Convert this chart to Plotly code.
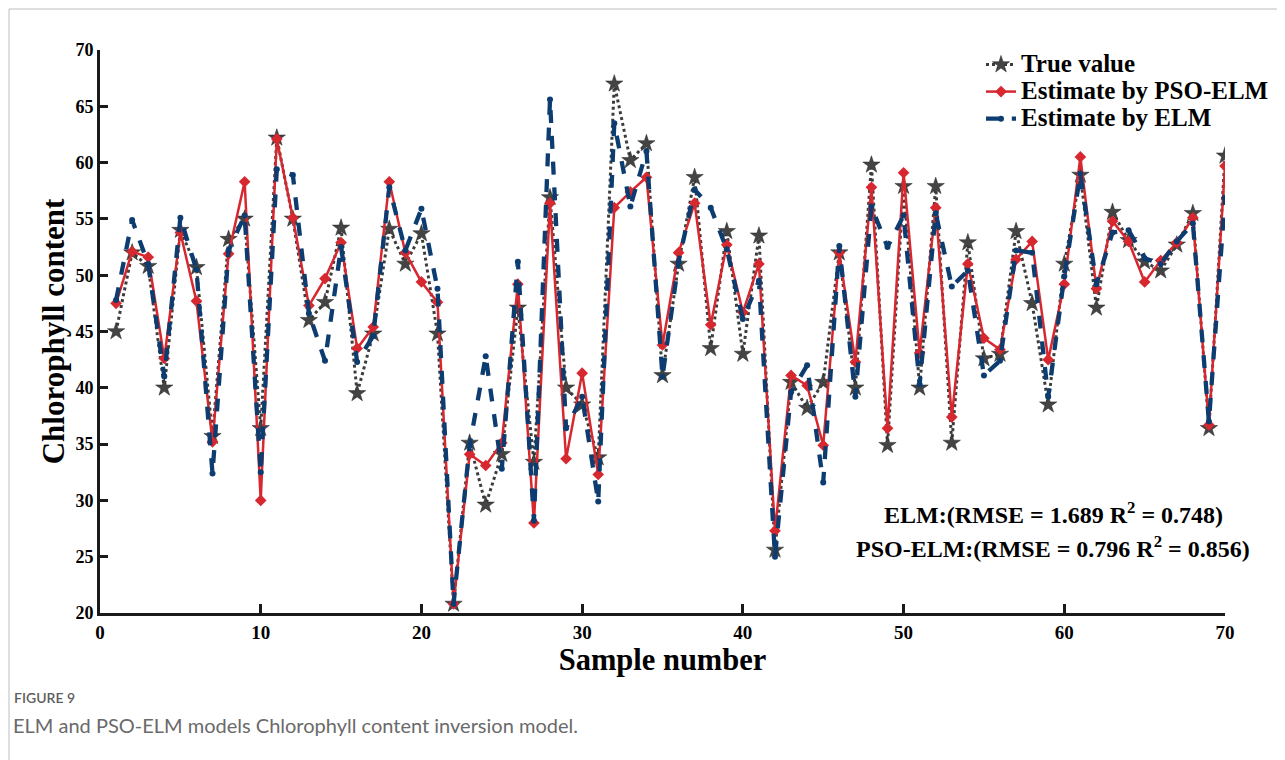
import plotly.graph_objects as go

samples = list(range(1, 71))
true_value = [45.0, 52.0, 50.8, 40.0, 54.0, 50.7, 35.7, 53.2, 55.0, 36.4,
              62.2, 55.0, 46.0, 47.6, 54.2, 39.5, 44.8, 54.1, 51.0, 53.7,
              44.8, 20.8, 35.1, 29.6, 34.1, 47.1, 33.4, 56.9, 40.0, 38.5,
              33.8, 67.0, 60.2, 61.7, 41.1, 51.0, 58.7, 43.5, 53.9, 43.0,
              53.5, 25.6, 40.5, 38.2, 40.5, 52.0, 40.0, 59.8, 34.9, 57.9,
              40.0, 57.9, 35.1, 52.9, 42.6, 43.0, 53.9, 47.5, 38.5, 51.0,
              58.9, 47.1, 55.6, 53.1, 51.2, 50.4, 52.7, 55.5, 36.4, 60.6]
pso_elm = [47.5, 52.1, 51.6, 42.6, 53.8, 47.7, 35.2, 51.9, 58.3, 30.0,
           62.1, 55.1, 47.3, 49.7, 52.9, 43.5, 45.4, 58.3, 52.0, 49.4,
           47.6, 20.8, 34.1, 33.1, 35.1, 49.2, 28.0, 56.4, 33.7, 41.3,
           32.3, 56.0, 57.4, 58.7, 43.8, 52.0, 56.4, 45.6, 52.7, 46.7,
           51.0, 27.3, 41.1, 40.2, 34.9, 52.0, 42.3, 57.8, 36.4, 59.1,
           43.1, 56.0, 37.4, 51.0, 44.4, 43.4, 51.4, 53.0, 42.5, 49.2,
           60.5, 48.8, 54.8, 53.0, 49.4, 51.3, 52.9, 55.1, 36.7, 59.7]
elm = [47.8, 54.9, 51.0, 41.0, 55.1, 50.5, 32.4, 52.2, 55.3, 32.5,
       59.4, 58.9, 46.6, 42.4, 52.5, 42.3, 44.6, 57.8, 52.2, 55.9,
       48.8, 20.8, 34.9, 42.8, 32.8, 51.2, 28.2, 65.6, 36.4, 39.2,
       29.9, 63.5, 56.1, 61.0, 41.0, 51.2, 57.6, 56.0, 52.3, 46.1,
       49.5, 25.0, 39.6, 42.0, 31.6, 52.6, 39.2, 56.1, 52.5, 55.3,
       40.3, 55.5, 49.0, 50.4, 41.1, 42.4, 52.2, 52.0, 39.2, 49.9,
       59.0, 49.2, 53.8, 54.0, 51.5, 51.0, 53.0, 54.6, 37.0, 56.9]

x_ticks = [0, 10, 20, 30, 40, 50, 60, 70]
y_ticks = [20, 25, 30, 35, 40, 45, 50, 55, 60, 65, 70]

SERIF = "Liberation Serif"
LEG = '<span style="font-size:25px">%s</span>'

fig = go.Figure()
fig.add_trace(go.Scatter(
    x=samples, y=true_value, name=LEG % "True value", mode="lines+markers",
    line=dict(color="#3c3c3c", width=3, dash="dot"),
    marker=dict(symbol="star", size=13, color="#444444",
                line=dict(color="#222222", width=0.5))))
fig.add_trace(go.Scatter(
    x=samples, y=pso_elm, name=LEG % "Estimate by PSO-ELM", mode="lines+markers",
    line=dict(color="#d7282f", width=2.5),
    marker=dict(symbol="diamond", size=9, color="#d7282f")))
fig.add_trace(go.Scatter(
    x=samples, y=elm, name=LEG % "Estimate by ELM", mode="lines+markers",
    line=dict(color="#0c3c70", width=4.3, dash="dash"),
    marker=dict(symbol="circle", size=6, color="#0c3c70")))

# page has an 8px body margin; positions below are in reference-image pixels
OFF = 8
W, H = 1285 - OFF, 760 - OFF
L, T = 100 - OFF, 50 - OFF
PW, PH = 1125, 563
R, B = W - L - PW, H - T - PH

def px(xp):
    return (xp - OFF - L) / PW
def py(yp):
    return (T + PH - (yp - OFF)) / PH

fig.add_shape(type="line", xref="paper", yref="paper",
              x0=px(9), x1=px(1285), y0=py(9), y1=py(9),
              line=dict(color="#bdbdbd", width=1))
fig.add_shape(type="line", xref="paper", yref="paper",
              x0=px(9), x1=px(9), y0=py(9), y1=py(760),
              line=dict(color="#bdbdbd", width=1))

fig.add_annotation(xref="paper", yref="paper", x=px(1053), y=py(513),
                   xanchor="center", yanchor="middle",
                   text="<b>ELM:(RMSE = 1.689 R<sup>2</sup> = 0.748)</b>",
                   showarrow=False, font=dict(family=SERIF, size=24, color="black"))
fig.add_annotation(xref="paper", yref="paper", x=px(1053), y=py(547),
                   xanchor="center", yanchor="middle",
                   text="<b>PSO-ELM:(RMSE = 0.796 R<sup>2</sup> = 0.856)</b>",
                   showarrow=False, font=dict(family=SERIF, size=24, color="black"))

fig.add_annotation(xref="paper", yref="paper", x=px(12), y=py(697),
                   xanchor="left", yanchor="middle", text="FIGURE 9",
                   showarrow=False, font=dict(family="Lato", size=14, color="#5e5e5e", weight=600))
fig.add_annotation(xref="paper", yref="paper", x=px(11), y=py(725),
                   xanchor="left", yanchor="middle",
                   text="ELM and PSO-ELM models Chlorophyll content inversion model.",
                   showarrow=False, font=dict(family="Lato", size=20, color="#6a6a6a"))

fig.update_layout(
    width=W, height=H,
    margin=dict(l=L, r=R, t=T, b=B, autoexpand=False),
    paper_bgcolor="white", plot_bgcolor="white",
    showlegend=True,
    legend=dict(x=px(981), y=py(46), xanchor="left", yanchor="top",
                bgcolor="rgba(0,0,0,0)",
                font=dict(family=SERIF, size=18.5, color="black", weight="bold"),
                itemwidth=30, tracegroupgap=0),
    font=dict(family=SERIF, color="black"),
)
fig.update_xaxes(
    range=[0, 70], tickvals=x_ticks, ticktext=[str(v) for v in x_ticks],
    showgrid=False, zeroline=False, showline=True, linecolor="#1a1a1a", linewidth=3,
    ticks="inside", ticklen=9, tickwidth=2.5, tickcolor="#1a1a1a",
    tickfont=dict(family=SERIF, size=19, color="black", weight="bold"),
    title=dict(text="<b>Sample number</b>", font=dict(family=SERIF, size=30.5, color="black"), standoff=4),
)
fig.update_yaxes(
    range=[20, 70], tickvals=y_ticks, ticktext=[str(v) for v in y_ticks],
    showgrid=False, zeroline=False, showline=True, linecolor="#1a1a1a", linewidth=3,
    ticks="inside", ticklen=8, tickwidth=2.5, tickcolor="#1a1a1a",
    tickfont=dict(family=SERIF, size=18, color="black", weight="bold"),
    title=dict(text="<b>Chlorophyll content</b>", font=dict(family=SERIF, size=31, color="black"), standoff=2),
)

fig.write_html("out.html")
